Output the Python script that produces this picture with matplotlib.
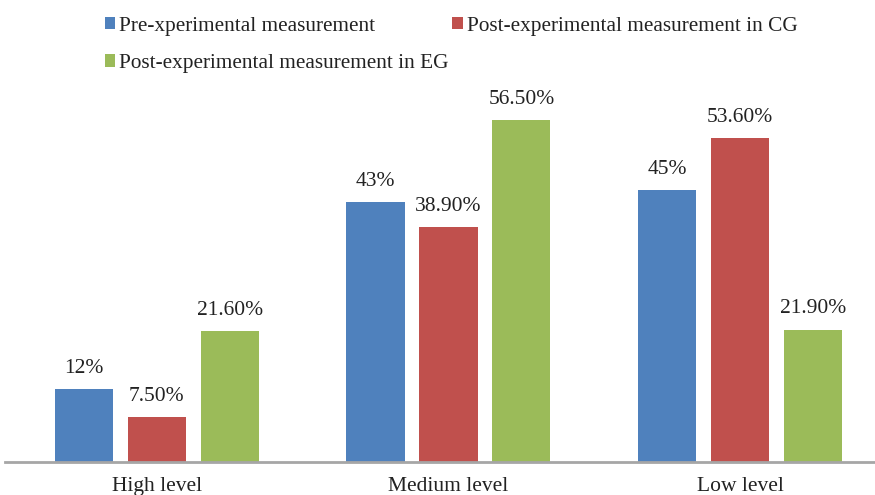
import matplotlib
matplotlib.use("Agg")
import matplotlib.pyplot as plt
import numpy as np

plt.rcParams['font.family'] = ['Liberation Serif', 'DejaVu Serif']

categories = ["High level", "Medium level", "Low level"]
series_names = [
    "Pre-xperimental measurement",
    "Post-experimental measurement in CG",
    "Post-experimental measurement in EG",
]
pre_values = [12, 43, 45]
cg_values = [7.5, 38.9, 53.6]
eg_values = [21.6, 56.5, 21.9]
label_formats = ["{:.0f}%", "{:.2f}%", "{:.2f}%"]
colors = ["#4F81BD", "#C0504D", "#9BBB59"]

W, H = 875, 495
fig = plt.figure(figsize=(W / 100, H / 100), dpi=100)
ax = fig.add_axes([5 / W, 33 / H, 870 / W, 372 / H])

x = np.arange(len(categories))
width = 0.2
step = 0.25
handles = []
for i, (vals, name, col, fmt) in enumerate(
        zip([pre_values, cg_values, eg_values], series_names, colors, label_formats)):
    bars = ax.bar(x + (i - 1) * step, vals, width, color=col, label=name)
    ax.bar_label(bars, labels=[fmt.format(v) for v in vals], padding=8,
                 fontsize=15.5, color="#222222")
    handles.append(bars)

ax.set_xlim(-0.521, 2.463)
ax.set_ylim(0, 61.5)
ax.set_xticks(x)
ax.set_xticklabels(categories, fontsize=15.5, color="#222222")
ax.tick_params(axis="x", length=0, pad=11)
ax.set_yticks([])
for side in ["left", "right", "top"]:
    ax.spines[side].set_visible(False)
ax.spines["bottom"].set_color("#A6A6A6")
ax.spines["bottom"].set_linewidth(2)

order = [0, 2, 1]
fig.legend([handles[k] for k in order], [series_names[k] for k in order],
           ncol=2, loc="upper left", bbox_to_anchor=(96 / W, 1 - 8 / H),
           frameon=False, fontsize=15.3, handlelength=0.5, handleheight=0.55,
           handletextpad=0.2, columnspacing=0.15, labelspacing=0.87,
           borderaxespad=0, labelcolor="#222222")

fig.savefig("out.png", dpi=100)
